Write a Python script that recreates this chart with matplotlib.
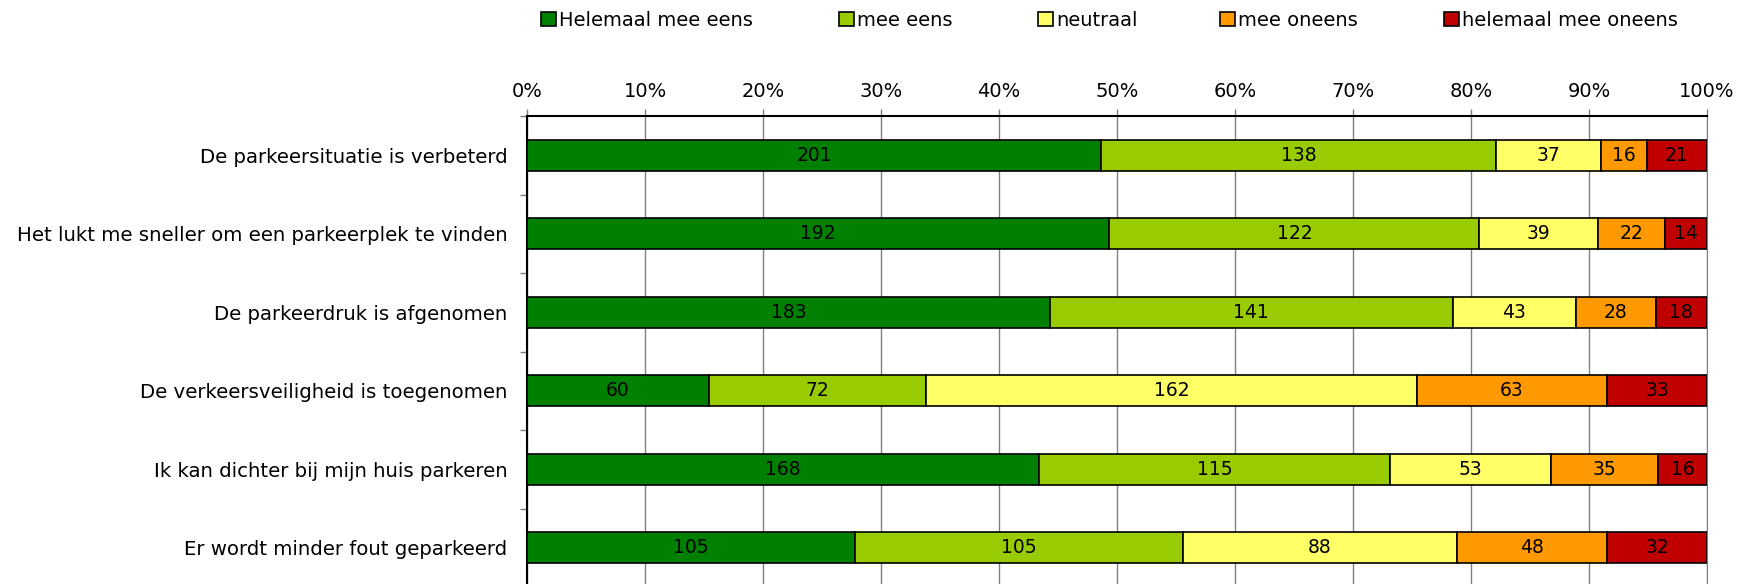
import numpy as np
import matplotlib.pyplot as plt
from matplotlib.patches import Patch

# gegevens
stellingen = ['De parkeersituatie is verbeterd',
              'Het lukt me sneller om een parkeerplek te vinden',
              'De parkeerdruk is afgenomen',
              'De verkeersveiligheid is toegenomen',
              'Ik kan dichter bij mijn huis parkeren',
              'Er wordt minder fout geparkeerd']

antwoorden = ['Helemaal mee eens', 'mee eens', 'neutraal', 'mee oneens', 'helemaal mee oneens']

helemaal_eens = [201, 192, 183, 60, 168, 105]
eens = [138, 122, 141, 72, 115, 105]
neutraal = [37, 39, 43, 162, 53, 88]
oneens = [16, 22, 28, 63, 35, 48]
helemaal_oneens = [21, 14, 18, 33, 16, 32]

kleuren = ['#008000', '#99CC00', '#FFFF66', '#FF9900', '#C00000']

plt.rcParams['font.family'] = 'DejaVu Sans'

aantallen = np.array([helemaal_eens, eens, neutraal, oneens, helemaal_oneens], dtype=float)
totaal = aantallen.sum(axis=0)
procent = aantallen / totaal * 100

fig = plt.figure(figsize=(17.37, 5.84), dpi=100)
ax = fig.add_axes([527 / 1737, -3 / 584, 1180 / 1737, 471 / 584])

y = np.arange(len(stellingen))
links = np.zeros(len(stellingen))
for i in range(len(antwoorden)):
    balken = ax.barh(y, procent[i], left=links, height=0.4, color=kleuren[i],
                     edgecolor='black', linewidth=1.2, zorder=3)
    ax.bar_label(balken, labels=[str(int(v)) for v in aantallen[i]],
                 label_type='center', fontsize=13.5, zorder=4)
    links += procent[i]

ax.set_xlim(0, 100)
ax.set_ylim(len(stellingen) - 0.5, -0.5)

ax.xaxis.tick_top()
ax.set_xticks(np.arange(0, 101, 10))
ax.set_xticklabels([f'{v}%' for v in range(0, 101, 10)], fontsize=14)
ax.tick_params(axis='x', direction='out', length=5, width=1, color='#808080', pad=6)
ax.grid(axis='x', color='#808080', linewidth=1, zorder=0)

ax.set_yticks(y)
ax.set_yticklabels(stellingen, fontsize=14.2)
ax.set_yticks(np.arange(-0.5, len(stellingen), 1), minor=True)
ax.tick_params(axis='y', which='major', length=0, pad=14)
ax.tick_params(axis='y', which='minor', length=5, width=1, color='#808080')

ax.spines['bottom'].set_visible(False)
ax.spines['right'].set_color('#808080')
ax.spines['top'].set_linewidth(1.5)
ax.spines['left'].set_linewidth(1.5)

# legenda bovenaan, elk item apart geplaatst
posities = [541, 839, 1038, 1220, 1444]
for i in range(len(antwoorden)):
    fig.legend(handles=[Patch(facecolor=kleuren[i], edgecolor='black', linewidth=1.2)],
               labels=[antwoorden[i]], loc='center left',
               bbox_to_anchor=(posities[i] / 1737, 1 - 20 / 584),
               frameon=False, fontsize=14, handlelength=0.75, handleheight=0.75,
               handletextpad=0.2, borderaxespad=0, borderpad=0)

plt.savefig('out.png', dpi=100)
